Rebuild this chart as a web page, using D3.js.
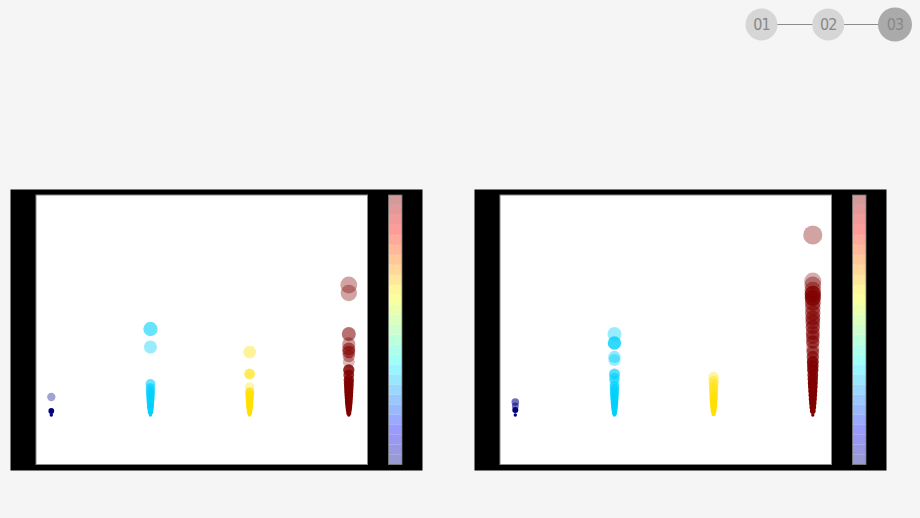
<!DOCTYPE html>
<html>
<head>
<meta charset="utf-8">
<script src="https://cdn.jsdelivr.net/npm/d3@7/dist/d3.min.js"></script>
<style>
  html, body { margin: 0; padding: 0; background: #f5f5f5; }
  svg { display: block; }
</style>
</head>
<body>
<svg id="chart" width="920" height="518"></svg>
<script>
// ---------- DATA ----------
const categories = ["c0", "c1", "c2", "c3"];
const navSteps = ["01", "02", "03"];
const activeStep = "03";

// values per category (height of each bubble), left chart
const leftValues = [
  [18, 4, 0],
  [86, 68, 31, 27, 24, 21, 18, 15, 12, 9, 6, 3, 0],
  [63, 41, 28, 23, 20, 17, 14, 11, 8, 5, 2, 0],
  [130, 122, 81, 71, 66, 63, 59, 53, 45, 40, 35, 32, 29, 26, 23, 20, 17, 14, 11, 8, 5, 2, 0]
];
// third dimension (weight -> opacity), left chart
const leftWeights = [
  [0.2, 1, 1],
  [0.5, 0.25, 0.5, 0.6, 0.7, 0.8, 0.85, 0.9, 0.9, 1, 1, 1, 1],
  [0.25, 0.55, 0.15, 0.8, 0.85, 0.9, 0.9, 1, 1, 1, 1, 1],
  [0.2, 0.2, 0.45, 0.25, 0.45, 0.5, 0.25, 0.1, 0.8, 0.75, 0.85, 0.8, 0.9, 0.9, 1, 1, 1, 1, 1, 1, 1, 1, 1]
];

// right chart
const rightValues = [
  [13, 9, 5, 0],
  [81, 72, 58, 55, 41, 37, 34, 29, 26, 23, 20, 17, 14, 11, 8, 5, 2, 0],
  [38, 34, 31, 28, 25, 22, 19, 16, 13, 10, 7, 4, 1],
  [180, 134, 130, 125, 121, 117, 112, 107, 102, 97, 93, 88, 82, 78, 73, 67, 63, 58, 53, 49, 45, 40, 36, 32, 28, 24, 20, 16, 12, 8, 4, 0]
];
const rightWeights = [
  [0.45, 0.45, 1, 1],
  [0.25, 0.75, 0.3, 0.25, 0.6, 0.5, 0.35, 0.65, 0.7, 0.8, 0.85, 0.9, 0.9, 1, 1, 1, 1, 1],
  [0.2, 0.3, 0.3, 0.35, 0.45, 0.55, 0.7, 0.8, 0.9, 0.9, 1, 1, 1],
  [0.2, 0.15, 0.25, 0.3, 0.75, 0.8, 0.5, 0.35, 0.45, 0.5, 0.45, 0.55, 0.5, 0.45, 0.6, 0.25, 0.5, 0.6, 0.85, 0.8, 0.9, 0.85, 0.9, 1, 1, 1, 1, 1, 1, 1, 1, 1]
];

// ---------- STYLE ----------
const categoryColors = ["#000080", "#00d0fc", "#ffe000", "#800000"];
const jetStops = ["#000080", "#0000ff", "#00ffff", "#ffff00", "#ff0000", "#800000"];
const jetPos = [0, 0.125, 0.375, 0.625, 0.875, 1];
const jet = d3.scaleLinear().domain(jetPos).range(jetStops).interpolate(d3.interpolateRgb);

const svg = d3.select("#chart");

// ---------- NAV ----------
const navX = d3.scalePoint().domain(navSteps).range([761.5, 895]);
const nav = svg.append("g");
nav.append("line")
  .attr("x1", navX("01")).attr("x2", navX("03"))
  .attr("y1", 24.5).attr("y2", 24.5)
  .attr("stroke", "#8c8c8c").attr("stroke-width", 1);
const navG = nav.selectAll("g.step").data(navSteps).join("g")
  .attr("transform", d => `translate(${navX(d)},24.5)`);
navG.append("circle")
  .attr("r", d => d === activeStep ? 17 : 16)
  .attr("fill", d => d === activeStep ? "#aaaaaa" : "#d6d6d6");
navG.append("text")
  .attr("text-anchor", "middle")
  .attr("dy", "0.36em")
  .attr("font-family", "'Liberation Sans Narrow', 'DejaVu Sans Condensed', sans-serif")
  .attr("font-size", 16)
  .attr("letter-spacing", "-1px")
  .attr("fill", "#888")
  .text(d => d);

// ---------- PANELS ----------
const panels = [
  { x0: 10.5, values: leftValues, weights: leftWeights },
  { x0: 474.5, values: rightValues, weights: rightWeights }
];

const yScale = d3.scaleLinear().domain([0, 220]).range([415, 195]);
const rScale = d3.scaleSqrt().domain([0, 180]).range([1.7, 9.6]);
const opacity = d3.scaleLinear().domain([0, 1]).range([0.2, 1]);

panels.forEach(p => {
  const g = svg.append("g").attr("transform", `translate(${p.x0},0)`);
  // black frame
  g.append("rect").attr("x", 0).attr("y", 189.5).attr("width", 412).attr("height", 281).attr("fill", "#000");
  // plot area
  g.append("rect").attr("x", 25.5).attr("y", 195).attr("width", 331.5).attr("height", 269.5)
    .attr("fill", "#fff").attr("stroke", "#8a8a8a").attr("stroke-width", 1);

  const xScale = d3.scaleLinear().domain([0, categories.length - 1]).range([40.8, 338.3]);

  const points = [];
  p.values.forEach((vals, ci) => {
    vals.forEach((v, i) => points.push({ c: ci, v: v, w: p.weights[ci][i] }));
  });
  g.append("g").selectAll("circle").data(points).join("circle")
    .attr("cx", d => xScale(d.c))
    .attr("cy", d => yScale(d.v))
    .attr("r", d => rScale(d.v))
    .attr("fill", d => categoryColors[d.c])
    .attr("fill-opacity", d => opacity(d.w));

  // colorbar
  const cb = g.append("g");
  const cbTop = 195, cbBot = 464.5, cbX = 378, cbW = 13.5;
  const nSeg = 27;
  const segScale = d3.scaleLinear().domain([0, nSeg]).range([cbBot, cbTop]);
  cb.append("rect").attr("x", cbX).attr("y", cbTop).attr("width", cbW).attr("height", cbBot - cbTop).attr("fill", "#fff");
  cb.selectAll("rect.seg").data(d3.range(nSeg)).join("rect")
    .attr("class", "seg")
    .attr("x", cbX).attr("width", cbW)
    .attr("y", i => segScale(i + 1))
    .attr("height", i => segScale(i) - segScale(i + 1))
    .attr("fill", i => jet((i + 0.5) / nSeg))
    .attr("fill-opacity", 0.4);
  cb.selectAll("line.band").data(d3.range(1, nSeg)).join("line")
    .attr("class", "band")
    .attr("x1", cbX).attr("x2", cbX + cbW)
    .attr("y1", i => segScale(i)).attr("y2", i => segScale(i))
    .attr("stroke", "#fff").attr("stroke-opacity", 0.12).attr("stroke-width", 0.6);
  cb.append("rect").attr("x", cbX).attr("y", cbTop).attr("width", cbW).attr("height", cbBot - cbTop)
    .attr("fill", "none").attr("stroke", "#777").attr("stroke-width", 0.8);
});
</script>
</body>
</html>
